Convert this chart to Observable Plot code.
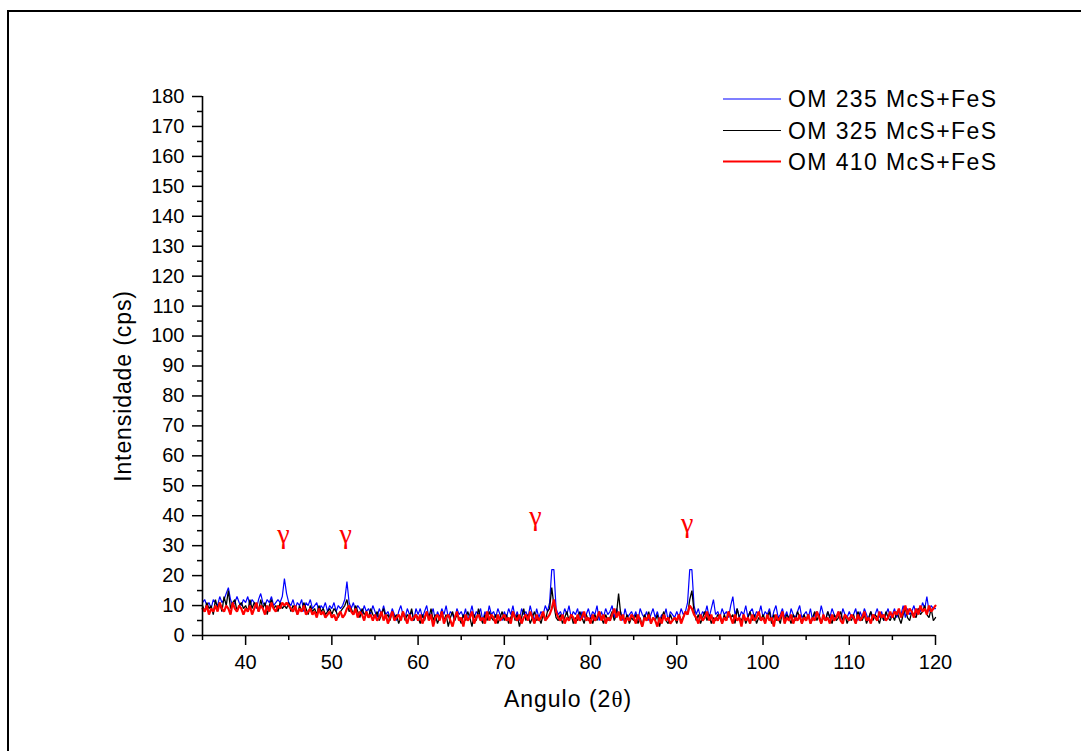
<!DOCTYPE html>
<html>
<head>
<meta charset="utf-8">
<script src="https://cdn.jsdelivr.net/npm/d3@7"></script>
<script src="https://cdn.jsdelivr.net/npm/@observablehq/plot@0.6"></script>
<style>
  html, body { margin: 0; padding: 0; background: #fff; }
  #wrap { position: relative; width: 1081px; height: 751px; overflow: hidden; background: #fff; }
  #frame { position: absolute; left: 7px; top: 10px; width: 1200px; height: 900px;
           border-left: 2px solid #000; border-top: 2px solid #000; }
  #chart { position: absolute; left: 0; top: 0; }
</style>
</head>
<body>
<div id="wrap">
  <div id="frame"></div>
  <div id="chart"></div>
</div>
<script>
// Sampling grid: 2θ from 35° to 120° every 0.25°
const xStart = 35;
const xStep = 0.25;

// OM 235 McS+FeS (blue)
const blue = [
  11,12,10,11,9,12,11,10,13,11,12,14,16,12,10,11,13,11,10,12,
  11,13,10,12,11,9,12,14,11,10,12,11,13,10,11,12,11,13,19,14,
  11,10,12,9,11,10,12,8,11,10,12,9,10,11,8,10,9,11,8,10,
  9,11,8,10,9,10,12,18,11,9,11,8,10,9,7,10,8,9,7,10,
  8,6,9,7,10,7,8,6,9,7,5,8,10,7,6,9,7,8,5,9,
  7,9,6,8,10,6,7,9,5,8,6,9,7,10,6,8,7,5,9,7,
  8,6,9,5,7,10,6,8,7,9,5,8,6,10,7,8,6,9,7,5,
  8,6,9,7,10,6,8,5,9,7,8,6,10,7,5,9,6,8,7,10,
  8,11,22,22,9,7,8,6,9,7,10,6,8,7,9,5,8,6,7,9,
  6,8,7,10,5,8,6,9,7,8,10,6,9,7,8,5,9,6,7,8,
  6,8,5,9,7,6,8,5,7,9,6,8,5,7,6,9,5,8,7,6,
  8,6,9,7,8,11,22,22,10,7,9,6,8,7,10,6,9,12,7,8,
  6,9,7,8,6,10,13,7,9,6,8,7,10,6,8,9,6,8,7,10,
  6,8,7,9,5,8,10,6,7,9,6,8,5,9,7,6,8,10,6,7,
  8,6,9,5,7,8,6,10,7,5,8,6,9,7,6,8,5,9,7,6,
  8,6,7,9,5,8,6,9,7,5,8,6,7,9,6,8,5,7,9,6,
  7,9,6,8,7,10,6,9,7,8,10,7,9,8,11,9,13,8,10,9,
  9
];

// OM 325 McS+FeS (black)
const black = [
  10,8,11,9,10,7,12,9,11,8,13,10,15,9,11,12,8,10,11,9,
  10,8,12,9,11,10,8,12,9,11,7,10,12,9,10,8,11,9,10,9,
  11,8,10,9,7,10,8,11,9,7,10,8,9,7,10,8,9,7,8,9,
  7,9,8,6,8,9,10,12,8,9,7,10,8,6,9,7,8,6,9,7,
  6,8,5,7,9,6,7,5,8,6,7,4,6,8,5,7,6,9,5,7,
  6,4,7,5,8,6,9,5,7,4,6,8,5,7,3,6,8,5,7,6,
  4,7,5,8,6,3,7,5,9,6,4,7,5,8,6,5,7,4,6,8,
  5,7,4,6,8,5,7,3,6,9,5,7,4,6,8,5,6,4,7,5,
  8,9,16,10,6,5,7,4,6,8,5,7,4,6,5,8,6,4,7,5,
  6,4,7,5,8,6,4,7,5,6,8,5,7,14,7,6,5,7,4,6,
  5,7,4,6,3,7,5,8,4,6,5,7,3,6,8,5,4,7,5,6,
  4,7,5,6,8,7,12,15,8,5,7,4,6,8,5,7,4,6,5,7,
  6,4,7,5,8,6,7,4,9,6,5,7,4,6,8,5,7,4,6,5,
  7,5,6,8,4,7,5,6,4,8,5,7,6,4,7,5,8,6,4,7,
  5,7,4,6,8,5,7,4,6,5,8,6,4,7,5,6,8,5,7,4,
  6,5,7,4,8,6,5,7,4,6,8,5,7,6,4,7,5,8,6,5,
  7,5,8,6,4,7,9,6,5,8,7,6,9,7,8,10,7,6,9,5,
  6
];

// OM 410 McS+FeS (red)
const red = [
  9,8,10,7,9,8,10,8,11,9,8,10,9,7,11,9,8,10,9,7,
  9,8,10,7,9,11,8,10,9,7,10,8,11,9,8,10,9,11,10,11,
  10,9,8,10,7,9,8,10,7,8,9,7,8,6,9,7,8,6,7,8,
  6,7,5,7,8,6,7,9,10,8,7,9,6,8,7,5,8,6,7,5,
  7,5,6,8,5,7,4,6,8,5,6,7,5,8,6,4,7,5,6,7,
  5,7,4,6,8,5,7,3,6,7,5,8,4,6,7,5,3,6,8,5,
  6,3,7,5,6,8,4,6,7,5,6,4,8,5,7,6,4,7,5,6,
  7,5,6,4,8,6,5,7,4,6,7,5,8,6,4,7,5,6,8,5,
  6,7,9,12,8,6,5,7,4,6,5,7,6,4,7,5,6,8,5,6,
  4,7,5,6,8,5,7,4,6,5,7,9,6,8,5,7,4,6,5,7,
  6,4,7,5,3,6,5,7,4,6,5,3,6,4,7,5,6,4,5,6,
  5,7,4,6,8,7,10,9,7,6,4,7,5,6,8,5,7,4,6,5,
  7,4,6,5,8,6,4,7,5,6,3,7,5,6,4,7,5,6,8,5,
  6,4,7,5,6,3,7,5,6,8,4,6,5,7,4,6,5,7,4,6,
  5,7,4,6,5,8,6,4,7,5,6,4,7,5,6,8,5,4,7,6,
  5,7,6,4,7,5,6,8,5,6,4,7,6,5,8,6,7,5,6,8,
  6,8,7,9,6,8,10,7,9,8,6,9,7,10,8,9,7,10,8,9,
  10
];

const seriesNames = ["OM 235 McS+FeS", "OM 325 McS+FeS", "OM 410 McS+FeS"];
const seriesColors = ["#0000ff", "#000000", "#ff0000"];
const seriesWidths = [1.2, 1.3, 2.2];
const seriesValues = [blue, black, red];

// γ peak annotations (2θ, intensity)
const gammaX = [44.4, 51.6, 73.6, 91.2];
const gammaY = [34, 34, 40, 37.7];

const xTicks = [40, 50, 60, 70, 80, 90, 100, 110, 120];
const xMinor = [35, 45, 55, 65, 75, 85, 95, 105, 115];
const yTicks = d3.range(0, 181, 10);
const yMinor = d3.range(5, 180, 10);

const toRows = (vals) => vals.map((y, i) => ({x: xStart + i * xStep, y}));
const gammaData = gammaX.map((x, i) => ({x, y: gammaY[i], t: "γ"}));

const font = "'Liberation Sans', Arial, sans-serif";

const chart = Plot.plot({
  width: 1081,
  height: 751,
  marginLeft: 202,
  marginRight: 146,
  marginTop: 96,
  marginBottom: 116,
  style: {fontFamily: font, background: "transparent", color: "#000"},
  x: {domain: [35, 120]},
  y: {domain: [0, 180]},
  marks: [
    ...seriesValues.map((vals, i) =>
      Plot.line(toRows(vals), {x: "x", y: "y", stroke: seriesColors[i], strokeWidth: seriesWidths[i], strokeLinejoin: "miter"})
    ),
    Plot.text(gammaData, {x: "x", y: "y", text: "t", fill: "#ff0000", fontSize: 28, fontFamily: "'Liberation Serif', 'DejaVu Serif', serif"}),
    Plot.axisY({ticks: yTicks, tickSize: 10, tickPadding: 8, fontSize: 20, label: null, strokeWidth: 1.5, tickFormat: d => String(d)}),
    Plot.axisY({ticks: yMinor, tickSize: 5, label: null, strokeWidth: 1.5, tickFormat: () => ""}),
    Plot.axisX({ticks: xTicks, tickSize: 10, tickPadding: 9, fontSize: 20, label: null, strokeWidth: 1.5, tickFormat: d => String(d)}),
    Plot.axisX({ticks: xMinor, tickSize: 5, label: null, strokeWidth: 1.5, tickFormat: () => ""}),
    Plot.ruleX([35], {y1: 0, y2: 180, strokeWidth: 1.6}),
    Plot.ruleY([0], {x1: 35, x2: 120, strokeWidth: 1.6})
  ]
});

document.getElementById("chart").appendChild(chart);

// Titles and legend added as real SVG text
const svg = d3.select(chart);
const xt = svg.append("text")
  .attr("x", 568).attr("y", 707)
  .attr("text-anchor", "middle")
  .style("font-family", font).style("font-size", "23px").style("letter-spacing", "1px")
  .attr("fill", "#000");
xt.append("tspan").text("Angulo (2");
xt.append("tspan").style("font-family", "'Liberation Serif', 'DejaVu Serif', serif").text("θ");
xt.append("tspan").text(")");

svg.append("text")
  .attr("transform", "translate(131,386) rotate(-90)")
  .attr("text-anchor", "middle")
  .style("font-family", font).style("font-size", "23px").style("letter-spacing", "0.9px")
  .attr("fill", "#000")
  .text("Intensidade (cps)");

const legendY = [99, 130.5, 161.5];
seriesNames.forEach((name, i) => {
  svg.append("line")
    .attr("x1", 723).attr("x2", 781)
    .attr("y1", legendY[i]).attr("y2", legendY[i])
    .attr("stroke", seriesColors[i]).attr("stroke-width", i === 2 ? 2 : 1.2);
  svg.append("text")
    .attr("x", 788).attr("y", legendY[i]).attr("dy", "0.36em")
    .attr("text-anchor", "start")
    .style("font-family", font).style("font-size", "23px").style("letter-spacing", "1.4px")
    .attr("fill", "#000")
    .text(name);
});
</script>
</body>
</html>
